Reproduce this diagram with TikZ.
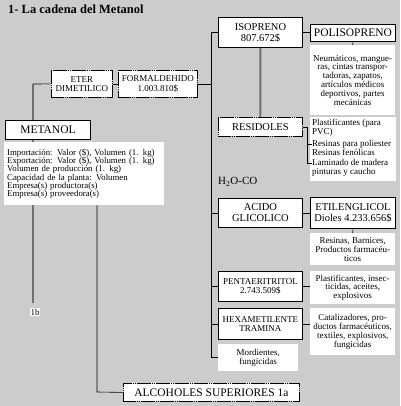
\documentclass[tikz,border=0pt]{standalone}
\usepackage{fontspec}
\setmainfont{Liberation Serif}
\usetikzlibrary{calc}
\definecolor{bg}{HTML}{CCCCCC}
\definecolor{lineg}{HTML}{6F6F6F}
\newcommand\fs[2]{\fontsize{#1}{#2}\selectfont}
\begin{document}
\begin{tikzpicture}[x=1pt,y=-1pt,
  solidbox/.style={draw=black,line width=0.9pt,fill=white,inner sep=0pt,align=center,anchor=north west},
  dotbox/.style={draw=black,line width=0.8pt,dash pattern=on 1.6pt off 0.3pt,fill=white,inner sep=0pt,align=center,anchor=north west},
  note/.style={fill=white,inner sep=0pt,align=center,anchor=north west,font=\fs{9}{8.9}},
  item/.style={anchor=north west,inner sep=0pt,align=left,font=\fs{9}{8.9}},
  link/.style={draw=black,line width=0.6pt},
  grayline/.style={draw=lineg,line width=2pt}]
\path[fill=bg] (0,0) rectangle (400,406);
% title
\node[anchor=base west,inner sep=0pt,font=\fs{12.5}{13}\bfseries] (title) at (8,14) {1- La cadena del Metanol};
% gray line of METANOL
\coordinate (gtop) at (33,84);
\coordinate (gbot) at (33,303);
\draw[grayline] (gtop) -- (gbot);
% left part
\node[dotbox,minimum width=61,minimum height=27,font=\fs{9}{9.5}] (eter) at (51,70) {ETER\\DIMETILICO};
\node[dotbox,minimum width=79,minimum height=27,font=\fs{9}{9.5}] (form) at (118,70) {FORMALDEHIDO\\1.003.810\$};
\node[solidbox,minimum width=85,minimum height=19,font=\fs{11.5}{12}] (met) at (5,120) {METANOL};
\node[note,align=left,inner xsep=3pt,text width=154,minimum height=63,font=\fs{8.8}{8.3}] (info) at (4,142) {Importación: Valor (\$), Volumen (1. kg)\\Exportación: Valor (\$), Volumen (1. kg)\\Volumen de producción (1. kg)\\Capacidad de la planta: Volumen\\Empresa(s) productora(s)\\Empresa(s) proveedora(s)};
\node[fill=white,inner sep=0.6pt,font=\fs{9}{9}] (lb) at (35,312) {1b};
\node[dotbox,minimum width=176,minimum height=18,font=\fs{11.5}{12}] (alc) at (123,383) {ALCOHOLES SUPERIORES 1a};
% right part
\node[solidbox,minimum width=84,minimum height=30,font=\fs{10.5}{11}] (isop) at (218,17) {ISOPRENO\\807.672\$};
\node[solidbox,minimum width=85,minimum height=17,font=\fs{11.5}{12}] (poli) at (310,24) {POLISOPRENO};
\node[note,minimum width=85,minimum height=70] (neu) at (310,45) {Neumáticos, mangue-\\ras, cintas transpor-\\tadoras, zapatos,\\artículos médicos\\deportivos, partes\\mecánicas};
\node[dotbox,minimum width=84,minimum height=19,font=\fs{10.5}{11}] (res) at (218,117) {RESIDOLES};
\node[note,minimum width=86,minimum height=64] (resnote) at (310,117) {};
\node[item] (r1) at (312,119) {Plastificantes (para\\PVC)};
\node[item] (r2) at (312,140) {Resinas para poliester\\Resinas fenólicas};
\node[item] (r3) at (312,159) {Laminado de madera\\pinturas y caucho};
\node[anchor=north west,inner sep=0pt,font=\fs{11}{12}] (h2o) at (218,177) {H\textsubscript{2}O-CO};
\node[solidbox,minimum width=84,minimum height=29,font=\fs{10.5}{11}] (acid) at (218,198) {ACIDO\\GLICOLICO};
\node[solidbox,minimum width=85,minimum height=31,font=\fs{10.5}{11}] (etil) at (310,197) {ETILENGLICOL\\Dioles 4.233.656\$};
\node[note,minimum width=85,minimum height=32] (etnote) at (310,233) {Resinas, Barnices,\\Productos farmacéu-\\ticos};
\node[solidbox,minimum width=84,minimum height=30,font=\fs{9}{9.5}] (penta) at (218,271) {PENTAERITRITOL\\2.743.509\$};
\node[note,minimum width=85,minimum height=33] (pnote) at (310,271) {Plastificantes, insec-\\ticidas, aceites,\\explosivos};
\node[solidbox,minimum width=84,minimum height=31,font=\fs{9}{9.5}] (hexa) at (218,308) {HEXAMETILENTE\\TRAMINA};
\node[note,minimum width=85,minimum height=47] (hnote) at (310,308) {Catalizadores, pro-\\ductos farmacéuticos,\\textiles, explosivos,\\fungicidas};
\node[note,minimum width=80,minimum height=27] (mord) at (218,344) {Mordientes,\\fungicidas};
% connectors
\draw[link] (gtop) -- (eter.west);
\draw[link] (eter.east) -- (form.west);
\coordinate (aturn) at (97,392);
\draw[link] (info.south -| aturn) -- (aturn) -- (alc.west);
\coordinate (spx) at (211,0);
\draw[link] (isop.west) -- (isop.west -| spx) -- (spx |- mord.west) -- (mord.west);
\draw[link] (form.east) -- (form.east -| spx);
\draw[link] (acid.west) -- (acid.west -| spx);
\draw[link] (penta.west) -- (penta.west -| spx);
\draw[link] (hexa.west) -- (hexa.west -| spx);
\draw[link] (isop.east) -- (isop.east -| poli.west);
\draw[link] (poli.south) -- (neu.north);
\draw[grayline] (isop.south) -- (res.north);
\coordinate (bx) at (307,0);
\coordinate (r2f) at ($(r2.north west)+(0,4.5)$);
\coordinate (r3f) at ($(r3.north west)+(0,4.5)$);
\draw[link] (res.east) -- (res.east -| bx) -- (bx |- r3f) -- (r3f);
\draw[link] (bx |- r2f) -- (r2f);
\draw[link] (acid.east) -- (acid.east -| etil.west);
\draw[link] (etil.south) -- (etnote.north);
\draw[link] (penta.east) -- (penta.east -| pnote.west);
\draw[link] (hexa.east) -- (hexa.east -| hnote.west);
\end{tikzpicture}
\end{document}
